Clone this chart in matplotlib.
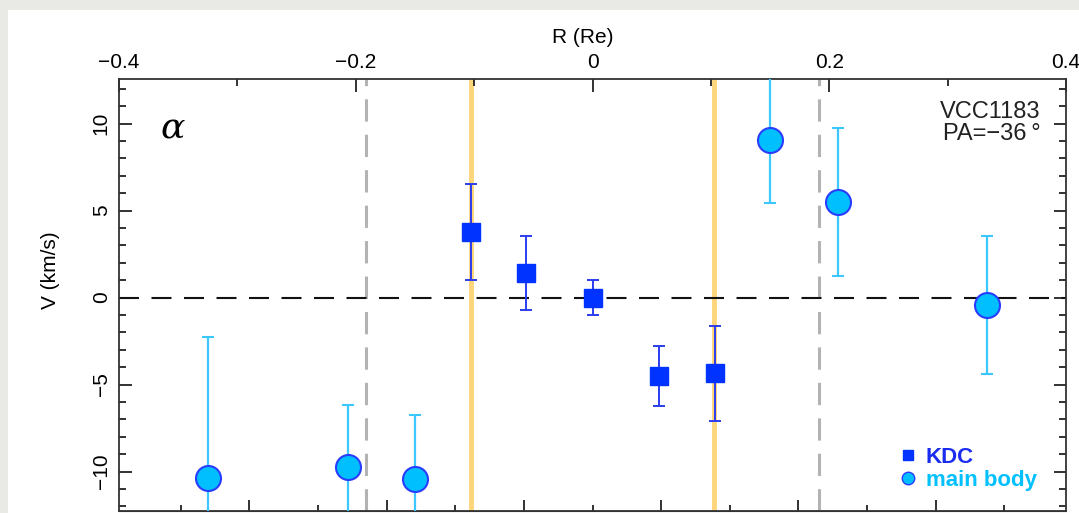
import matplotlib
matplotlib.use("Agg")
import matplotlib.pyplot as plt
import numpy as np
from matplotlib.lines import Line2D
from matplotlib.patches import Rectangle
from matplotlib.ticker import MultipleLocator

# KDC points (blue squares)
kdc_r = [-0.1026, -0.0562, 0.0, 0.0565, 0.1035]
kdc_v = [3.75, 1.43, 0.0, -4.49, -4.36]
kdc_err = [2.75, 2.12, 1.03, 1.72, 2.72]

# main body points (cyan circles)
mb_r = [-0.325, -0.2063, -0.150, 0.150, 0.207, 0.3335]
mb_v = [-10.36, -9.72, -10.43, 9.05, 5.49, -0.43]
mb_err = [8.07, 3.54, 3.70, 3.62, 4.27, 3.97]

kdc_edges = [-0.1026, 0.1026]   # orange lines
re_marks = [-0.191, 0.191]      # grey dashed lines
bottom_major = [-0.29, -0.174, -0.058, 0.058, 0.174, 0.29]
bottom_minor = [-0.348, -0.232, -0.116, 0.0, 0.116, 0.232, 0.348]

plt.rcParams['font.family'] = ['Liberation Sans', 'DejaVu Sans']

fig = plt.figure(figsize=(10.79, 5.13), dpi=100)
fig.patch.set_facecolor('#e9e9e5')
fig.patches.append(Rectangle((8/1079, 0), 1 - 8/1079, 503/513, transform=fig.transFigure,
                             facecolor='white', edgecolor='none', zorder=-10))

ax = fig.add_axes([119/1079, 2/513, 947/1079, 432/513])
ax.set_zorder(2)
ax.set_xlim(-0.4, 0.4)
ax.set_ylim(-12.27, 12.56)

for x in kdc_edges:
    ax.axvline(x, color='#ffd57a', lw=3.5, zorder=1)
for x in re_marks:
    ax.axvline(x, color='#b3b3b3', lw=2.2, linestyle=(0, (7.3, 4.3)), zorder=1)
ax.axhline(0, color='#111111', lw=1.5, linestyle=(0, (9.6, 6)), zorder=2)

ax.errorbar(mb_r, mb_v, yerr=mb_err, fmt='o', ms=18, mfc='#00bfff', mec='#2a3cff', mew=1.5,
            ecolor='#3cc8ff', elinewidth=1.6, capsize=4, capthick=1.6, zorder=4)
ax.errorbar(kdc_r, kdc_v, yerr=kdc_err, fmt='s', ms=13, mfc='#0033ff', mec='#0033ff',
            ecolor='#2b3cf0', elinewidth=1.4, capsize=4, capthick=1.4, zorder=5)

# top axis in R (Re)
ax.xaxis.tick_top()
ax.xaxis.set_label_position('top')
ax.set_xticks([-0.4, -0.2, 0, 0.2, 0.4])
ax.set_xticklabels(['\u22120.4', '\u22120.2', '0', '0.2', '0.4'])
ax.xaxis.set_minor_locator(MultipleLocator(0.1))
ax.set_xlabel('R (Re)', fontsize=15)
ax.xaxis.set_label_coords(0.49, 1.083)

ax.set_yticks([-10, -5, 0, 5, 10])
ax.set_yticklabels(['\u221210', '\u22125', '0', '5', '10'], rotation=90, va='center')
ax.yaxis.set_minor_locator(MultipleLocator(1))
ax.set_ylabel('V (km/s)', fontsize=15)
ax.yaxis.set_label_coords(-0.062, 0.558)

ax.tick_params(axis='both', which='major', direction='in', length=9, width=1.3,
               labelsize=15, color='#222222', right=True, left=True)
ax.tick_params(axis='both', which='minor', direction='in', length=5, width=1.3,
               color='#222222', right=True, left=True)
ax.tick_params(axis='x', which='major', pad=5)
ax.tick_params(axis='y', which='major', pad=6)

# bottom axis (other unit), labels cut off
sec = ax.secondary_xaxis('bottom')
sec.set_xticks(bottom_major)
sec.set_xticks(bottom_minor, minor=True)
sec.tick_params(which='major', direction='in', length=8, width=1.3, labelbottom=False, color='#222222')
sec.tick_params(which='minor', direction='in', length=4, width=1.3, labelbottom=False, color='#222222')
sec.spines['bottom'].set_color('#333333')

for s in ax.spines.values():
    s.set_color('#333333')
    s.set_linewidth(1.3)

ax.text(0.057, 0.885, '\u03b1', transform=ax.transAxes, fontsize=26, fontstyle='italic',
        family='DejaVu Serif', va='center', ha='center')
ax.text(0.973, 0.948, 'VCC1183\nPA=\u221236\u2009\u00b0', transform=ax.transAxes, fontsize=17,
        ha='right', va='top', linespacing=0.95, color='#222222')

handles = [Line2D([], [], ls='none', marker='s', ms=7, mfc='#0033ff', mec='#0033ff'),
           Line2D([], [], ls='none', marker='o', ms=9, mfc='#00bfff', mec='#2a3cff')]
leg = ax.legend(handles, ['KDC', 'main body'], loc='lower right', bbox_to_anchor=(0.99, 0.0),
                frameon=False, handlelength=0.6, handletextpad=0.5, labelspacing=0.1,
                prop={'size': 16, 'weight': 'bold'}, labelcolor=['#1a2cf0', '#00c0ff'])

fig.savefig('out.png', dpi=100, facecolor=fig.get_facecolor())
